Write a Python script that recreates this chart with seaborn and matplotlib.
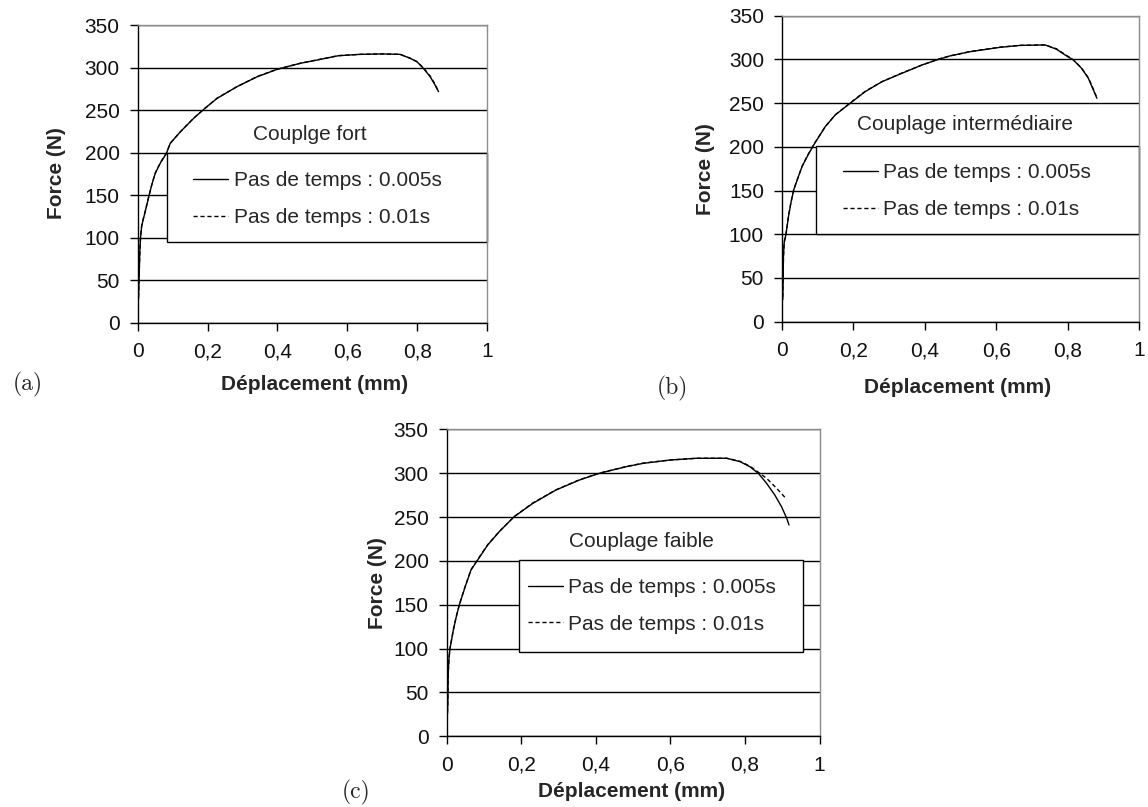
import numpy as np
import seaborn as sns
import matplotlib.pyplot as plt
from matplotlib.patches import Rectangle

# ---- data ----
x_ticks = [0, 0.2, 0.4, 0.6, 0.8, 1]
x_tick_labels = ["0", "0,2", "0,4", "0,6", "0,8", "1"]
y_ticks = [0, 50, 100, 150, 200, 250, 300, 350]

labels = ["Pas de temps : 0.005s", "Pas de temps : 0.01s"]
titles = ["Couplge fort", "Couplage intermédiaire", "Couplage faible"]

# (a) couplage fort
xa_005 = [0.002, 0.004, 0.006, 0.008, 0.011, 0.016, 0.021, 0.0315, 0.040, 0.050, 0.065,
          0.082, 0.093, 0.122, 0.160, 0.189, 0.227, 0.284, 0.342, 0.399, 0.465, 0.513,
          0.574, 0.636, 0.700, 0.751, 0.780, 0.799, 0.818, 0.837, 0.851, 0.861]
ya_005 = [27, 55, 85, 100, 113, 122, 130, 148, 162, 175.6, 188,
          199.1, 210.9, 224.5, 240.3, 250.9, 263.8, 277.5, 289.2, 297.9, 305, 308.8,
          313.9, 315.5, 316, 315.5, 310.8, 306.9, 299, 289.2, 279.5, 271.6]
xa_01 = [0.002, 0.004, 0.006, 0.008, 0.011, 0.016, 0.021, 0.0315, 0.040, 0.050, 0.065,
         0.082, 0.093, 0.122, 0.160, 0.189, 0.227, 0.284, 0.342, 0.399, 0.465, 0.513,
         0.574, 0.636, 0.700, 0.751, 0.780, 0.799, 0.818, 0.837, 0.851, 0.859]
ya_01 = [30, 58, 84, 101, 113.5, 122.5, 130.5, 148.5, 162, 176, 188.5,
         199.5, 211, 224.5, 240.5, 251, 264, 277.5, 289.5, 298, 305, 309,
         314, 315.5, 316, 315.5, 311, 307, 299.5, 290, 280.5, 273.5]

# (b) couplage intermediaire
xb_005 = [0.002, 0.003, 0.004, 0.006, 0.0112, 0.018, 0.025, 0.0327, 0.045, 0.056, 0.072,
          0.0887, 0.121, 0.149, 0.187, 0.233, 0.280, 0.336, 0.392, 0.439, 0.471, 0.527,
          0.611, 0.667, 0.737, 0.769, 0.793, 0.816, 0.839, 0.858, 0.872, 0.882]
yb_005 = [25, 45, 75, 90, 100, 120, 136, 150.6, 165, 177.3, 190,
          202.1, 223, 236.4, 248.6, 263.1, 274.5, 284.1, 293.6, 300.1, 304, 308.8,
          313.8, 316, 316.5, 311.6, 305, 299.3, 289.8, 278.4, 265, 255.5]
xb_01 = [0.002, 0.003, 0.004, 0.006, 0.0112, 0.018, 0.025, 0.0327, 0.045, 0.056, 0.072,
         0.0887, 0.121, 0.149, 0.187, 0.233, 0.280, 0.336, 0.392, 0.439, 0.471, 0.527,
         0.611, 0.667, 0.737, 0.769, 0.793, 0.816, 0.839, 0.858, 0.872, 0.880]
yb_01 = [28, 48, 74, 91, 100.5, 120.5, 136.5, 151, 165, 177.5, 190.5,
         202.5, 223, 236.5, 249, 263.5, 274.5, 284.5, 293.5, 300.5, 304, 309,
         314, 316, 316.5, 312, 305.5, 299.5, 290, 279, 266, 258]

# (c) couplage faible
xc_005 = [0.002, 0.003, 0.004, 0.006, 0.0089, 0.0178, 0.025, 0.0338, 0.050, 0.0652, 0.083,
          0.110, 0.141, 0.181, 0.231, 0.293, 0.356, 0.409, 0.481, 0.527, 0.599, 0.670,
          0.751, 0.787, 0.813, 0.836, 0.858, 0.880, 0.898, 0.912, 0.918]
yc_005 = [25, 40, 70, 88, 100, 121, 135, 149.7, 171, 189.6, 201,
          218.1, 233.3, 250.4, 265.6, 280.8, 292.2, 299.8, 307.4, 311.2, 315, 317,
          317, 313.1, 307.4, 299.8, 288.4, 275.1, 261.8, 248.5, 241]
xc_01 = [0.002, 0.003, 0.004, 0.006, 0.0089, 0.0178, 0.025, 0.0338, 0.050, 0.0652, 0.083,
         0.110, 0.141, 0.181, 0.231, 0.293, 0.356, 0.409, 0.481, 0.527, 0.599, 0.670,
         0.751, 0.787, 0.813, 0.836, 0.858, 0.885, 0.912]
yc_01 = [27, 42, 71, 88.5, 100.5, 121.5, 135.5, 150, 171.5, 190, 201.5,
         218.5, 233.5, 250.5, 266, 281, 292.5, 300, 307.5, 311.5, 315, 317,
         317, 313.5, 308, 301, 294.1, 282.7, 270.2]

panels = [
    dict(rect=[0.1200, 0.6001, 0.3043, 0.3689], data=(xa_005, ya_005, xa_01, ya_01),
         box=(0.083, 94.5, 0.917, 105.5), anchor=(0.158, 145.3), title=(0.493, 220.7),
         ylab=(-0.206, 0.502), xlab=(0.505, -0.176), tag=(0.0244, 0.523, "(a)")),
    dict(rect=[0.6812, 0.6014, 0.3110, 0.3792], data=(xb_005, yb_005, xb_01, yb_01),
         box=(0.095, 100.3, 0.905, 101.0), anchor=(0.170, 149.2), title=(0.513, 225.0),
         ylab=(-0.188, 0.5), xlab=(0.493, -0.184), tag=(0.586, 0.519, "(b)")),
    dict(rect=[0.3891, 0.0876, 0.3248, 0.3804], data=(xc_005, yc_005, xc_01, yc_01),
         box=(0.193, 95.8, 0.763, 105.5), anchor=(0.217, 148.8), title=(0.523, 222.6),
         ylab=(-0.161, 0.5), xlab=(0.496, -0.148), tag=(0.310, 0.0186, "(c)")),
]

sns.set_style("white")
plt.rcParams['font.family'] = ['Liberation Sans', 'DejaVu Sans']

fig = plt.figure(figsize=(11.48, 8.07), dpi=100)

for i, p in enumerate(panels):
    ax = fig.add_axes(p["rect"])
    x1, y1, x2, y2 = p["data"]
    sns.lineplot(x=x1, y=y1, ax=ax, color="black", lw=1.0, label=labels[0],
                 estimator=None, sort=False, zorder=3)
    sns.lineplot(x=x2, y=y2, ax=ax, color="black", lw=1.0, label=labels[1],
                 estimator=None, sort=False, zorder=4, linestyle=(0, (3, 2)))

    ax.set_xlim(0, 1)
    ax.set_ylim(0, 350)
    ax.set_xticks(x_ticks)
    ax.set_xticklabels(x_tick_labels)
    ax.set_yticks(y_ticks)
    ax.tick_params(axis="both", direction="out", length=6, width=1, color="black",
                   labelsize=15, labelcolor="#111111", bottom=True, left=True)
    ax.tick_params(axis="x", pad=8)
    ax.tick_params(axis="y", pad=7)

    ax.set_axisbelow(True)
    ax.yaxis.grid(True, color="black", lw=1.0)
    ax.xaxis.grid(False)
    for side in ["left", "bottom"]:
        ax.spines[side].set_color("black")
        ax.spines[side].set_linewidth(1.0)
    for side in ["top", "right"]:
        ax.spines[side].set_color("#8c8c8c")
        ax.spines[side].set_linewidth(1.0)

    ax.set_xlabel("Déplacement (mm)", fontsize=15, fontweight="bold")
    ax.set_ylabel("Force (N)", fontsize=15, fontweight="bold")
    ax.xaxis.set_label_coords(*p["xlab"])
    ax.yaxis.set_label_coords(*p["ylab"])

    bx, by, bw, bh = p["box"]
    ax.add_patch(Rectangle((bx, by), bw, bh, facecolor="white", edgecolor="black",
                           lw=1.0, zorder=2, clip_on=False))
    leg = ax.legend(loc="center left", bbox_to_anchor=p["anchor"],
                    bbox_transform=ax.transData, frameon=False, fontsize=15,
                    borderpad=0, borderaxespad=0, handlelength=1.7,
                    handletextpad=0.25, labelspacing=0.85)
    leg.set_zorder(5)
    for h in leg.get_lines():
        h.set_linewidth(1.0)

    tx, ty = p["title"]
    ax.text(tx, ty, titles[i], ha="center", va="center", fontsize=15, zorder=5)

    gx, gy, gt = p["tag"]
    fig.text(gx, gy, gt, ha="center", va="center", fontsize=17, family="cmr10")

fig.savefig("out.png", dpi=100)
